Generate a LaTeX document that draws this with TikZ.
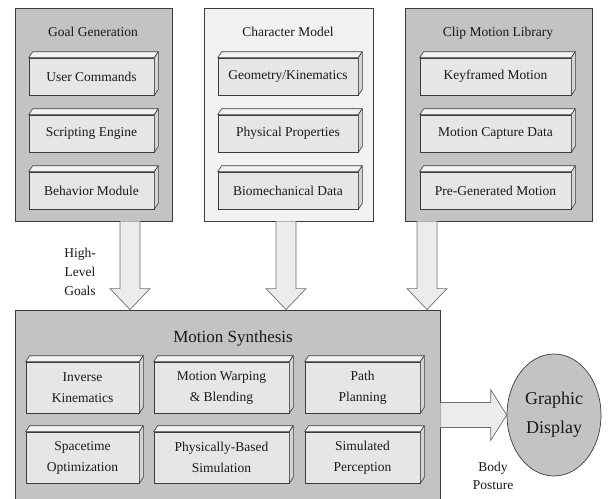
\documentclass[tikz,border=0pt]{standalone}
\usepackage{fontspec}
\setmainfont{Liberation Serif}
\usetikzlibrary{calc,shapes.geometric}
\definecolor{panelgray}{RGB}{195,195,195}
\definecolor{panellight}{RGB}{242,242,242}
\definecolor{boxfill}{RGB}{230,230,230}
\definecolor{boxtop}{RGB}{242,242,242}
\definecolor{boxside}{RGB}{212,212,212}
\definecolor{arrowfill}{RGB}{236,236,236}
\definecolor{arrowline}{RGB}{110,110,110}
\definecolor{linegray}{RGB}{60,60,60}
\definecolor{txt}{RGB}{25,25,25}
\begin{document}
\begin{tikzpicture}[x=1pt,y=-1pt,
  panel/.style={draw=linegray, line width=0.8pt, fill=panelgray, inner sep=0pt},
  box3d/.style={draw=linegray, line width=0.6pt, fill=boxfill, inner sep=0pt, align=center, text=txt, font=\fontsize{13.5}{21}\selectfont},
  face/.style={draw=linegray, line width=0.6pt, line join=round},
  title/.style={text=txt, font=\fontsize{13.5}{15}\selectfont},
  blockarrow/.style={draw=arrowline, line width=0.7pt, fill=arrowfill, line join=miter},
  lbl/.style={text=txt, align=center, font=\fontsize{13.5}{19}\selectfont}]

\useasboundingbox (0,0) rectangle (610,498);

% panels
\node[panel, minimum width=157, minimum height=213] (gg) at (93.5,114.5) {};
\node[panel, fill=panellight, minimum width=169, minimum height=213] (cm) at (288.5,114.5) {};
\node[panel, minimum width=187, minimum height=213] (cml) at (498.5,114.5) {};
\node[panel, minimum width=425, minimum height=190] (ms) at (227.5,405) {};

% titles
\node[title] (ggt) at (93,32) {Goal Generation};
\node[title] (cmt) at (288,32) {Character Model};
\node[title] (cmlt) at (498,33) {Clip Motion Library};
\node[title, font=\fontsize{17}{19}\selectfont] (mst) at (233,338) {Motion Synthesis};

% inner boxes
\node[box3d, minimum width=125, minimum height=37] (uc) at (91.5,76.5) {User Commands};
\node[box3d, minimum width=125, minimum height=37] (se) at (91.5,133.5) {Scripting Engine};
\node[box3d, minimum width=125, minimum height=37] (bm) at (91.5,190.5) {Behavior Module};

\node[box3d, minimum width=140, minimum height=37] (gk) at (288,76.5) {Geometry/Kinematics};
\node[box3d, minimum width=140, minimum height=37] (pp) at (288,133.5) {Physical Properties};
\node[box3d, minimum width=140, minimum height=37] (bd) at (288,190.5) {Biomechanical Data};

\node[box3d, minimum width=151, minimum height=37] (km) at (495.5,76.5) {Keyframed Motion};
\node[box3d, minimum width=151, minimum height=37] (mc) at (495.5,133.5) {Motion Capture Data};
\node[box3d, minimum width=151, minimum height=37] (pg) at (495.5,190.5) {Pre-Generated Motion};

\node[box3d, minimum width=113, minimum height=51] (ik) at (82.5,387.5) {Inverse\\Kinematics};
\node[box3d, minimum width=135, minimum height=51] (mw) at (221.5,387.5) {Motion Warping\\\& Blending};
\node[box3d, minimum width=115, minimum height=51] (ppl) at (362.5,387.5) {Path\\Planning};
\node[box3d, minimum width=113, minimum height=51] (so) at (82.5,457.5) {Spacetime\\Optimization};
\node[box3d, minimum width=135, minimum height=51] (pbs) at (221.5,457.5) {Physically-Based\\Simulation};
\node[box3d, minimum width=115, minimum height=51] (sp) at (362.5,457.5) {Simulated\\Perception};

\foreach \n in {uc,se,bm,gk,pp,bd,km,mc,pg,ik,mw,ppl,so,pbs,sp}{
  \draw[face, fill=boxtop] (\n.north west) -- ++(4,-6) -- ($(\n.north east)+(4,-6)$) -- (\n.north east) -- cycle;
  \draw[face, fill=boxside] (\n.north east) -- ($(\n.north east)+(4,-6)$) -- ($(\n.south east)+(4,-6)$) -- (\n.south east) -- cycle;
}

% display
\node[ellipse, draw=linegray, line width=0.7pt, fill=panelgray, minimum width=94, minimum height=122, inner sep=0pt, align=center, text=txt, font=\fontsize{18}{29}\selectfont] (disp) at (554,415) {Graphic\\Display};

% down block arrows
\coordinate (a1) at ($(gg.south)+(36.5,0)$);
\coordinate (t1) at (a1 |- ms.north);
\path[blockarrow] ($(a1)+(-10,0)$) -- ($(t1)+(-10,-21)$) -- ($(t1)+(-20,-21)$) -- (t1) -- ($(t1)+(20,-21)$) -- ($(t1)+(10,-21)$) -- ($(a1)+(10,0)$);

\coordinate (a2) at ($(cm.south)+(-2.5,0)$);
\coordinate (t2) at (a2 |- ms.north);
\path[blockarrow] ($(a2)+(-10,0)$) -- ($(t2)+(-10,-21)$) -- ($(t2)+(-20,-21)$) -- (t2) -- ($(t2)+(20,-21)$) -- ($(t2)+(10,-21)$) -- ($(a2)+(10,0)$);

\coordinate (a3) at ($(cml.south)+(-71.5,0)$);
\coordinate (t3) at (a3 |- ms.north);
\path[blockarrow] ($(a3)+(-10,0)$) -- ($(t3)+(-10,-21)$) -- ($(t3)+(-20,-21)$) -- (t3) -- ($(t3)+(20,-21)$) -- ($(t3)+(10,-21)$) -- ($(a3)+(10,0)$);

% right block arrow
\coordinate (r0) at (ms.east |- disp.west);
\path[blockarrow] ($(r0)+(0,-12.5)$) -- ($(disp.west)+(-16,-12.5)$) -- ($(disp.west)+(-16,-25.5)$) -- (disp.west) -- ($(disp.west)+(-16,25.5)$) -- ($(disp.west)+(-16,12.5)$) -- ($(r0)+(0,12.5)$);

% labels
\node[lbl] (hlg) at (80,272) {High-\\Level\\Goals};
\node[lbl, font=\fontsize{13.5}{18}\selectfont] (bp) at (493,476) {Body\\Posture};
\end{tikzpicture}
\end{document}
